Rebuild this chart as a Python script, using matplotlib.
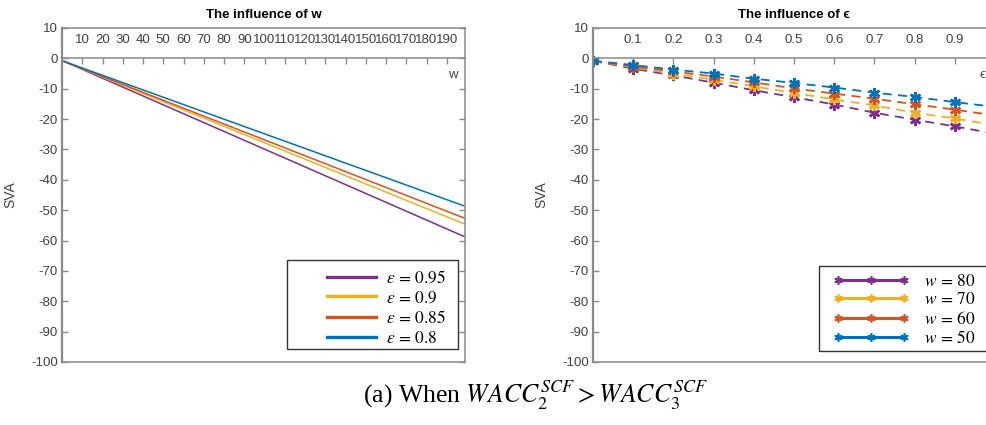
import matplotlib
matplotlib.use('Agg')
import matplotlib.pyplot as plt
import matplotlib.transforms as mtransforms
from matplotlib.patches import Rectangle

plt.rcParams['font.family'] = ['Liberation Sans', 'DejaVu Sans']
plt.rcParams['mathtext.fontset'] = 'stix'
plt.rcParams['axes.unicode_minus'] = False

# MATLAB default line colours
purple = '#7E2F8E'
yellow = '#EDB120'
orange = '#D95319'
blue = '#0072BD'
colors = [purple, yellow, orange, blue]

# left: SVA against w for four values of epsilon (straight lines)
w_vals = [1, 199]
eps_labels = ['0.95', '0.9', '0.85', '0.8']
sva_w = [
    [-1.0, -58.8],
    [-1.0, -54.6],
    [-1.0, -52.7],
    [-1.0, -48.7],
]

# right: SVA against epsilon for four values of w
eps_vals = [0.0, 0.1, 0.2, 0.3, 0.4, 0.5, 0.6, 0.7, 0.8, 0.9, 1.0]
w_labels = ['80', '70', '60', '50']
sva_eps = [
    [-0.8, -3.4, -5.6, -8.0, -10.5, -12.8, -15.2, -17.9, -20.2, -22.4, -24.8],
    [-0.8, -3.0, -5.0, -7.0, -9.2, -11.4, -13.5, -15.5, -17.9, -19.8, -22.0],
    [-0.8, -2.7, -4.3, -6.0, -7.9, -9.9, -11.6, -13.3, -15.1, -16.9, -18.8],
    [-0.8, -2.2, -3.7, -5.0, -6.7, -8.1, -9.6, -11.3, -12.7, -14.4, -16.0],
]

W, H = 987, 425
fig = plt.figure(figsize=(W / 100, H / 100), dpi=100)
px = mtransforms.IdentityTransform()

spine_col = '#8a8a8a'
tick_col = '#404040'


def style_axes(ax, xlim, xticks, xticklabels):
    ax.set_xlim(*xlim)
    ax.set_ylim(-100, 10)
    ax.set_yticks(range(-100, 11, 10))
    ax.set_xticks(xticks)
    ax.set_xticklabels(xticklabels)
    # x axis drawn through the origin, labels above it
    ax.spines['top'].set_position(('data', 0))
    ax.xaxis.set_ticks_position('top')
    for s in ax.spines.values():
        s.set_color(spine_col)
        s.set_linewidth(1.1)
    ax.spines['left'].set_linewidth(1.6)
    ax.tick_params(axis='x', direction='in', length=4, width=1, color=spine_col,
                   labelcolor=tick_col, labelsize=9.5, pad=9)
    ax.tick_params(axis='y', direction='in', length=4, width=1, color=spine_col,
                   labelcolor=tick_col, labelsize=9.5, right=True, pad=3)
    # upper edge of the box
    ax.plot([0, 1], [1, 1], transform=ax.transAxes, color=spine_col, lw=1.1,
            clip_on=False)
    ax.set_ylabel('SVA', color=tick_col, fontsize=10)
    ax.yaxis.set_label_coords(-0.11, 0.5)


def boxed_legend(ax, x0, y0, x1, y1, hx, cy, **kw):
    # legend entries without their own frame, inside a plain black box
    leg = ax.legend(loc='center left', bbox_to_anchor=(hx, H - cy),
                    bbox_transform=px, frameon=False, borderpad=0,
                    borderaxespad=0, fontsize=12.5, **kw)
    fig.patches.append(Rectangle((x0, H - y1), x1 - x0, y1 - y0, transform=px,
                                 fill=False, edgecolor='#333333', lw=1.0))
    return leg


ax1 = fig.add_axes([62 / W, 1 - 362 / H, 403 / W, 334 / H])
for sva, lab, c in zip(sva_w, eps_labels, colors):
    ax1.plot(w_vals, sva, color=c, lw=1.1, label=r'$\epsilon\,=\,%s$' % lab)
style_axes(ax1, (0, 199), list(range(10, 191, 10)),
           [str(v) for v in range(10, 191, 10)])
ax1.set_title('The influence of w', fontsize=9.5, fontweight='bold', pad=7)
ax1.text(193, -5.5, 'w', fontsize=9.5, color=tick_col, ha='center', va='center')
leg1 = boxed_legend(ax1, 287, 260, 458, 349, 327, 307.5,
                    handlelength=2.85, handletextpad=0.55, labelspacing=0.22)
for h in leg1.get_lines():
    h.set_linewidth(2.4)

ax2 = fig.add_axes([593 / W, 1 - 362 / H, 402 / W, 334 / H])
for sva, lab, c in zip(sva_eps, w_labels, colors):
    ax2.plot(eps_vals, sva, color=c, lw=1.3, ls=(0, (5, 3.5)),
             marker=(6, 2, 0), ms=8, mew=1.8,
             label=r'$w\,=\,%s$' % lab)
style_axes(ax2, (0, 1), [0.1, 0.2, 0.3, 0.4, 0.5, 0.6, 0.7, 0.8, 0.9],
           ['0.1', '0.2', '0.3', '0.4', '0.5', '0.6', '0.7', '0.8', '0.9'])
ax2.set_title('The influence of \u03f5', fontsize=9.5, fontweight='bold', pad=7)
ax2.text(0.968, -5.5, '\u03f5', fontsize=9.5, color=tick_col, ha='center',
         va='center')
leg2 = boxed_legend(ax2, 819, 266, 995, 351, 833, 309.5,
                    handlelength=4.4, handletextpad=0.85, labelspacing=0.15,
                    numpoints=3)
for h in leg2.get_lines():
    h.set_linewidth(2.2)
    h.set_linestyle('-')
    h.set_markersize(6)
    h.set_markeredgewidth(1.2)

fig.text(0.542, 1 - 395 / H, r'(a) When $WACC_2^{SCF} > WACC_3^{SCF}$',
         fontsize=18.5, family='Liberation Serif', ha='center', va='center')

fig.savefig('out.png', dpi=100)
